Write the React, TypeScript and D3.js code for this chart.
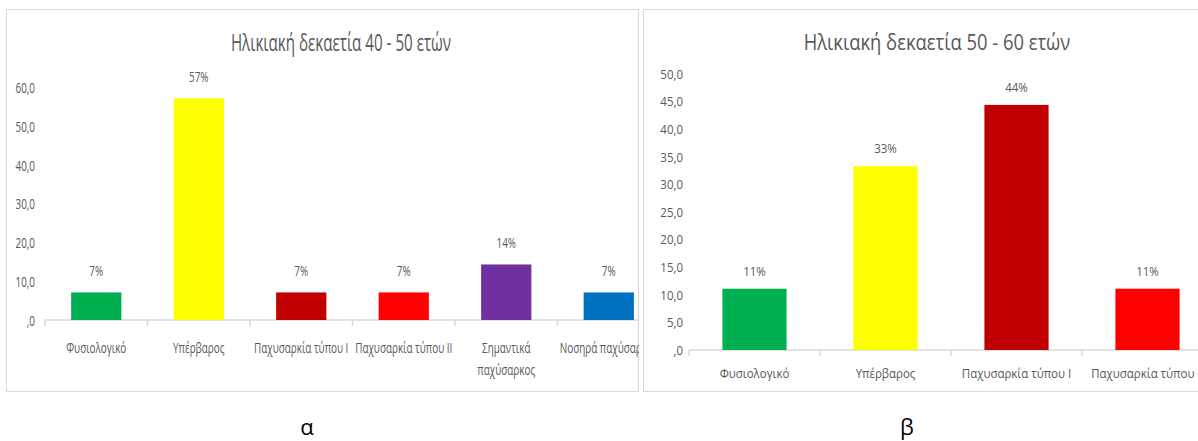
import React, { useEffect, useRef } from 'react';
import * as d3 from 'd3';

// Panel α : age decade 40 - 50
const leftTitle = 'Ηλικιακή δεκαετία 40 - 50 ετών';
const leftCategories = [
  'Φυσιολογικό',
  'Υπέρβαρος',
  'Παχυσαρκία τύπου Ι',
  'Παχυσαρκία τύπου ΙΙ',
  'Σημαντικά\nπαχύσαρκος',
  'Νοσηρά παχύσαρκος'
];
const leftValues = [7.1, 57.1, 7.1, 7.1, 14.3, 7.1];
const leftColors = ['#00B050', '#FFFF00', '#C00000', '#FF0000', '#7030A0', '#0070C0'];
const leftTicks = [0, 10, 20, 30, 40, 50, 60];

// Panel β : age decade 50 - 60
const rightTitle = 'Ηλικιακή δεκαετία 50 - 60 ετών';
const rightCategories = ['Φυσιολογικό', 'Υπέρβαρος', 'Παχυσαρκία τύπου Ι', 'Παχυσαρκία τύπου ΙΙ'];
const rightValues = [11.1, 33.3, 44.4, 11.1];
const rightColors = ['#00B050', '#FFFF00', '#C00000', '#FF0000'];
const rightTicks = [0, 5, 10, 15, 20, 25, 30, 35, 40, 45, 50];

const captions = ['α', 'β'];

const TEXT = '#595959';
const GRID = '#d9d9d9';
const FONT = '"Open Sans", "Noto Sans", sans-serif';

const fmtTick = (v: number) => {
  const s = d3.format('.1f')(v).replace('.', ',');
  return v === 0 ? ',0' : s;
};

interface PanelCfg {
  id: string;
  title: string;
  categories: string[];
  values: number[];
  colors: string[];
  ticks: number[];
  box: [number, number, number, number];
  xRange: [number, number];
  yRange: [number, number];
  titleX: number;
  titleY: number;
  yLabelX: number;
  xLabelY: number;
  labelGap: number;
  sx: number;
  titleSx: number;
  fs: number;
  titleFs: number;
}

function drawPanel(svg: d3.Selection<SVGSVGElement, unknown, null, undefined>, c: PanelCfg) {
  const [bx, by, bw, bh] = c.box;

  svg.append('defs').append('clipPath').attr('id', c.id)
    .append('rect').attr('x', bx).attr('y', by).attr('width', bw).attr('height', bh);

  const g = svg.append('g').attr('clip-path', `url(#${c.id})`);

  g.append('rect')
    .attr('x', bx).attr('y', by).attr('width', bw).attr('height', bh)
    .attr('fill', '#fff').attr('stroke', GRID).attr('stroke-width', 2);

  const x = d3.scaleBand<string>()
    .domain(c.categories)
    .range(c.xRange)
    .paddingInner(0.51)
    .paddingOuter(0.255);

  const y = d3.scaleLinear()
    .domain([0, c.ticks[c.ticks.length - 1]])
    .range(c.yRange);

  const text = (px: number, py: number, s: string, size: number, anchor = 'middle', sx = c.sx) =>
    g.append('text')
      .attr('transform', `translate(${px},${py}) scale(${sx},1)`)
      .attr('text-anchor', anchor)
      .attr('dominant-baseline', 'central')
      .style('font-family', FONT)
      .style('font-size', `${size}px`)
      .style('fill', TEXT)
      .text(s);

  // title
  text(c.titleX, c.titleY, c.title, c.titleFs, 'middle', c.titleSx);

  // y tick labels
  c.ticks.forEach(t => text(c.yLabelX, y(t), fmtTick(t), c.fs, 'end'));

  // x axis line + tick marks at band boundaries
  const y0 = y(0);
  const gap = (x.step() - x.bandwidth()) / 2;
  g.append('line')
    .attr('x1', c.xRange[0]).attr('x2', c.xRange[1])
    .attr('y1', y0).attr('y2', y0)
    .attr('stroke', GRID).attr('stroke-width', 1.5);
  const bounds = c.categories.map(d => (x(d) as number) - gap).concat([c.xRange[1]]);
  bounds.forEach(b =>
    g.append('line')
      .attr('x1', b).attr('x2', b).attr('y1', y0).attr('y2', y0 + 6)
      .attr('stroke', GRID).attr('stroke-width', 1.5));

  // bars
  g.selectAll('rect.bar')
    .data(c.values)
    .enter().append('rect')
    .attr('class', 'bar')
    .attr('x', (_, i) => x(c.categories[i]) as number)
    .attr('y', d => y(d))
    .attr('width', x.bandwidth())
    .attr('height', d => y0 - y(d))
    .attr('fill', (_, i) => c.colors[i]);

  // value labels
  c.values.forEach((v, i) => {
    const cx = (x(c.categories[i]) as number) + x.bandwidth() / 2;
    text(cx, y(v) - c.labelGap, `${Math.round(v)}%`, c.fs);
  });

  // category labels
  c.categories.forEach(cat => {
    const cx = (x(cat) as number) + x.bandwidth() / 2;
    cat.split('\n').forEach((line, li) => text(cx, c.xLabelY + li * 22, line, c.fs));
  });
}

const App: React.FC = () => {
  const svgRef = useRef<SVGSVGElement>(null);

  useEffect(() => {
    const svg = d3.select(svgRef.current as SVGSVGElement);
    svg.selectAll('*').remove();

    svg.append('rect').attr('width', 1198).attr('height', 441).attr('fill', '#fff');

    drawPanel(svg, {
      id: 'clip-a',
      title: leftTitle,
      categories: leftCategories,
      values: leftValues,
      colors: leftColors,
      ticks: leftTicks,
      box: [6, 9, 633, 383],
      xRange: [45, 660],
      yRange: [320, 87],
      titleX: 341,
      titleY: 42,
      yLabelX: 35,
      xLabelY: 347,
      labelGap: 22,
      sx: 0.66,
      titleSx: 0.66,
      fs: 15,
      titleFs: 23
    });

    drawPanel(svg, {
      id: 'clip-b',
      title: rightTitle,
      categories: rightCategories,
      values: rightValues,
      colors: rightColors,
      ticks: rightTicks,
      box: [643, 9, 600, 383],
      xRange: [689, 1213],
      yRange: [350, 74],
      titleX: 937,
      titleY: 42,
      yLabelX: 683,
      xLabelY: 373,
      labelGap: 18,
      sx: 0.85,
      titleSx: 0.875,
      fs: 13.5,
      titleFs: 21
    });

    // captions
    [307, 907].forEach((cx, i) =>
      svg.append('text')
        .attr('x', cx).attr('y', 435)
        .attr('text-anchor', 'middle')
        .style('font-family', FONT)
        .style('font-size', '22px')
        .style('fill', '#000')
        .text(captions[i]));
  }, []);

  return (
    <svg
      ref={svgRef}
      width={1198}
      height={441}
      style={{ position: 'absolute', left: 0, top: 0, display: 'block' }}
    />
  );
};

export default App;
